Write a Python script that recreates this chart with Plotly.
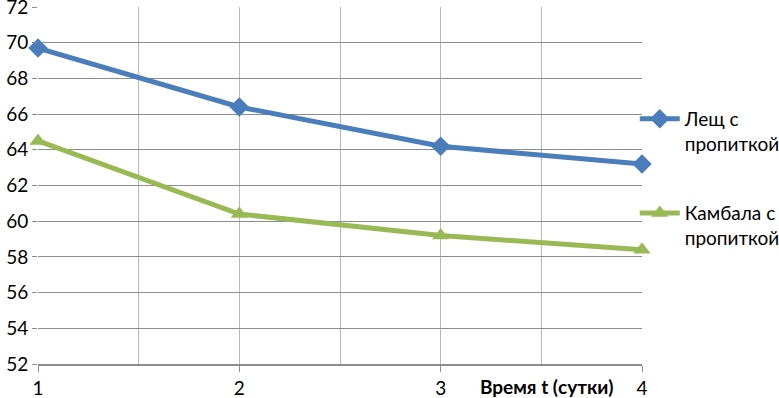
import plotly.graph_objects as go

days = [1, 2, 3, 4]
lesch = [69.7, 66.4, 64.2, 63.2]
kambala = [64.5, 60.4, 59.2, 58.4]
name_lesch = "Лещ с<br>пропиткой"
name_kambala = "Камбала с<br>пропиткой"
x_title = "Время t (сутки)"
x_ticks = [1, 2, 3, 4]
y_ticks = list(range(52, 73, 2))

FONT = "Lato"
FS = 19
fig = go.Figure()
fig.add_trace(go.Scatter(x=days, y=lesch, name=name_lesch, mode="lines+markers",
                         line=dict(color="#4A7EBB", width=5),
                         marker=dict(symbol="diamond", size=15, color="#4A7EBB"),
                         legendgroup="a", cliponaxis=False))
fig.add_trace(go.Scatter(x=days, y=kambala, name=name_kambala, mode="lines+markers",
                         line=dict(color="#98B954", width=5),
                         marker=dict(symbol="triangle-up", size=15, color="#98B954"),
                         legendgroup="b", cliponaxis=False))

fig.update_layout(
    width=779, height=398,
    margin=dict(l=38, r=137, t=7, b=34, autoexpand=False),
    paper_bgcolor="white", plot_bgcolor="white",
    font=dict(family=FONT, size=FS, color="black"),
    legend=dict(x=0.988, xref="paper", y=0.74, yref="paper",
                xanchor="left", yanchor="top", valign="top",
                tracegroupgap=42, font=dict(family=FONT, size=FS),
                bgcolor="rgba(0,0,0,0)", itemwidth=40),
    xaxis=dict(range=[1, 4], tickvals=x_ticks, ticks="outside", ticklen=6,
               tickcolor="#8c8c8c", showgrid=True, gridcolor="#b8b8b8", gridwidth=1,
               minor=dict(dtick=0.5, showgrid=True, gridcolor="#b8b8b8", ticks=""),
               showline=True, linecolor="#8c8c8c", linewidth=1.5, zeroline=False,
               tickfont=dict(size=FS), automargin=False, ticklabeloverflow="allow"),
    yaxis=dict(range=[52, 72], tickvals=y_ticks, ticks="outside", ticklen=5,
               tickcolor="#8c8c8c", showgrid=True, gridcolor="#8c8c8c", gridwidth=1,
               showline=False, zeroline=False, tickfont=dict(size=FS),
               automargin=False, ticklabeloverflow="allow"),
    annotations=[dict(text="<b>" + x_title + "</b>", x=3.53, xref="x", y=-0.062,
                      yref="paper", xanchor="center", yanchor="middle", showarrow=False,
                      font=dict(family=FONT, size=FS))],
)
fig.write_html("out.html", config={"displayModeBar": False},
               post_script="document.body.style.margin='0';")
